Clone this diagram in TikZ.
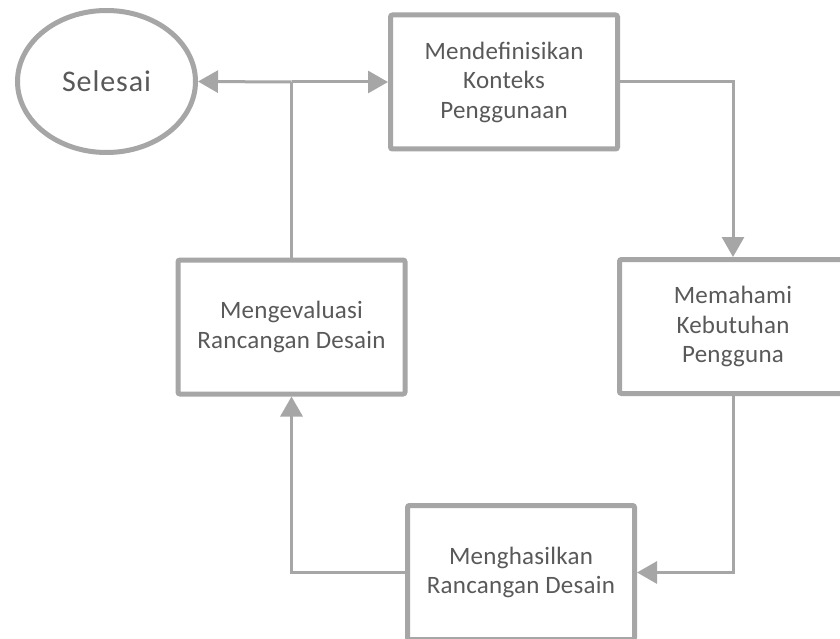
\documentclass[tikz,border=0pt]{standalone}
\usepackage{fontspec}
\setmainfont{Carlito}
\usetikzlibrary{arrows.meta,shapes.geometric}
\definecolor{lineg}{HTML}{A6A6A6}
\definecolor{textg}{HTML}{595959}
\tikzset{
  procbox/.style={draw=lineg, line width=5pt, rounded corners=2pt, fill=white,
    minimum width=227pt, minimum height=134pt, inner sep=0pt, align=center,
    text=textg, font=\fontsize{25pt}{29.5pt}\selectfont\addfontfeatures{LetterSpace=1}},
  endnode/.style={ellipse, draw=lineg, line width=5pt, fill=white,
    minimum width=178pt, minimum height=142pt, inner sep=0pt,
    text=textg, font=\fontsize{30pt}{35pt}\selectfont\addfontfeatures{LetterSpace=3}},
  conn/.style={draw=lineg, line width=3pt},
  arr/.style={conn, -{Triangle[length=20pt,width=22pt]}}
}
\begin{document}
\begin{tikzpicture}[x=1pt,y=-1pt]
\clip (0,0) rectangle (840,639);
\fill[white] (0,0) rectangle (840,639);
\node[endnode] (sel) at (106.5,81.5) {Selesai};
\node[procbox] (b1) at (504,82) {Mendefinisikan\\Konteks\\Penggunaan};
\node[procbox] (b2) at (733,326.5) {Memahami\\Kebutuhan\\Pengguna};
\node[procbox] (b3) at (291.5,327) {Mengevaluasi\\Rancangan Desain};
\node[procbox] (b4) at (521,572.5) {Menghasilkan\\Rancangan Desain};
\coordinate (j) at (b3.north |- b1.west);
\draw[arr] (b1.east) -| (b2.north);
\draw[arr] (b2.south) |- (b4.east);
\draw[arr] (b4.west) -| (b3.south);
\draw[conn] (b3.north) -- (j);
\draw[arr] (j) -- (sel.east);
\draw[arr] (j) -- (b1.west);
\end{tikzpicture}
\end{document}
